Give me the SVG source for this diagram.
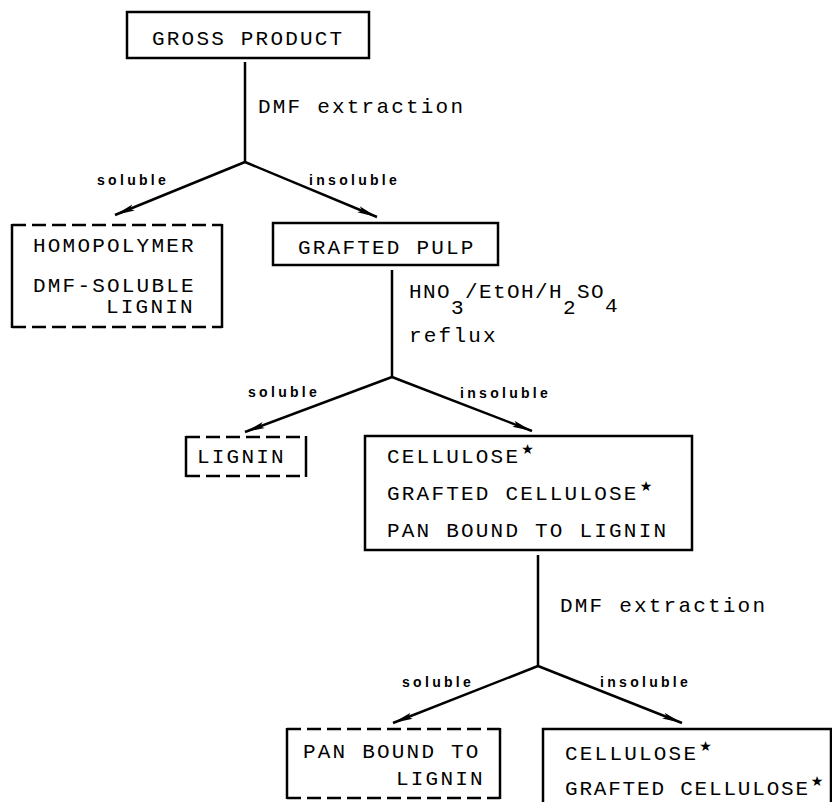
<svg xmlns="http://www.w3.org/2000/svg" width="832" height="802" viewBox="0 0 832 802">
<defs>
<marker id="ah" viewBox="0 0 20 8" refX="20" refY="4" markerWidth="20" markerHeight="8" markerUnits="userSpaceOnUse" orient="auto">
<path d="M0,0.8 L20,4 L0,7.2 L4,4 Z" fill="#000"/>
</marker>
<style>
.bx{fill:none;stroke:#000;stroke-width:2.5}
.dash{fill:none;stroke:#000;stroke-width:2.5;stroke-dasharray:14 6}
.side{fill:none;stroke:#000;stroke-width:2.5}
.ln{fill:none;stroke:#000;stroke-width:2.5}
.ar{fill:none;stroke:#000;stroke-width:2.5;marker-end:url(#ah)}
.t{font-family:"Liberation Mono","DejaVu Sans Mono",monospace;font-size:21px;letter-spacing:2.2px;fill:#000}
.c{font-family:"Liberation Mono","DejaVu Sans Mono",monospace;font-size:21px;letter-spacing:1.4px;fill:#000}
.l{font-family:"Liberation Sans","DejaVu Sans",sans-serif;font-weight:bold;font-size:14px;letter-spacing:3.3px;fill:#000}
.st{font-family:"DejaVu Sans",sans-serif;font-size:14px;letter-spacing:0}
</style>
</defs>
<rect width="832" height="802" fill="#fff"/>

<g id="connectors">
<line class="ln" x1="245" y1="62" x2="245" y2="162"/>
<line class="ar" x1="245" y1="162" x2="115" y2="215"/>
<line class="ar" x1="245" y1="162" x2="377" y2="217"/>
<line class="ln" x1="392" y1="270" x2="392" y2="377"/>
<line class="ar" x1="392" y1="377" x2="245" y2="432"/>
<line class="ar" x1="392" y1="377" x2="532" y2="431"/>
<line class="ln" x1="538" y1="555" x2="538" y2="666"/>
<line class="ar" x1="538" y1="666" x2="393" y2="723"/>
<line class="ar" x1="538" y1="666" x2="682" y2="723"/>
<text class="t" x="258" y="113">DMF extraction</text>
<text class="l" x="97" y="185">soluble</text>
<text class="l" x="309" y="185">insoluble</text>
<text class="c" x="409" y="298">HNO<tspan dy="16">3</tspan><tspan dy="-16">/EtOH/H</tspan><tspan dy="16">2</tspan><tspan dy="-16">SO</tspan><tspan dy="14">4</tspan></text>
<text class="t" x="409" y="342">reflux</text>
<text class="l" x="248" y="397">soluble</text>
<text class="l" x="460" y="398">insoluble</text>
<text class="t" x="560" y="612">DMF extraction</text>
<text class="l" x="402" y="687">soluble</text>
<text class="l" x="600" y="687">insoluble</text>
</g>

<g id="gross-product">
<rect class="bx" x="127" y="12" width="242" height="46"/>
<text class="t" x="152" y="45">GROSS PRODUCT</text>
</g>

<g id="homopolymer">
<line class="dash" x1="12" y1="225" x2="222" y2="225"/>
<line class="dash" x1="12" y1="327" x2="222" y2="327"/>
<line class="side" x1="12" y1="224" x2="12" y2="328"/>
<line class="side" x1="222" y1="224" x2="222" y2="328"/>
<text class="t" x="33" y="252">HOMOPOLYMER</text>
<text class="t" x="33" y="292">DMF-SOLUBLE</text>
<text class="t" x="106" y="313">LIGNIN</text>
</g>

<g id="grafted-pulp">
<rect class="bx" x="273" y="223" width="225" height="42"/>
<text class="t" x="298" y="254">GRAFTED PULP</text>
</g>

<g id="lignin">
<line class="dash" x1="186" y1="437" x2="306" y2="437"/>
<line class="dash" x1="186" y1="476" x2="306" y2="476"/>
<line class="side" x1="186" y1="436" x2="186" y2="477"/>
<line class="side" x1="306" y1="436" x2="306" y2="477"/>
<text class="t" x="197" y="463">LIGNIN</text>
</g>

<g id="cellulose-mix">
<rect class="bx" x="365" y="436" width="327" height="114"/>
<text class="t" x="387" y="463">CELLULOSE<tspan class="st" dx="1" dy="-9">★</tspan></text>
<text class="t" x="387" y="500">GRAFTED CELLULOSE<tspan class="st" dx="1" dy="-9">★</tspan></text>
<text class="t" x="387" y="537">PAN BOUND TO LIGNIN</text>
</g>

<g id="pan-bound">
<line class="dash" x1="287" y1="729" x2="500" y2="729"/>
<line class="dash" x1="287" y1="798" x2="500" y2="798"/>
<line class="side" x1="287" y1="728" x2="287" y2="799"/>
<line class="side" x1="500" y1="728" x2="500" y2="799"/>
<text class="t" x="303" y="758">PAN BOUND TO</text>
<text class="t" x="396" y="785">LIGNIN</text>
</g>

<g id="cellulose-final">
<rect class="bx" x="543" y="729" width="288" height="90"/>
<text class="t" x="565" y="760">CELLULOSE<tspan class="st" dx="1" dy="-9">★</tspan></text>
<text class="t" x="565" y="795" style="letter-spacing:1.8px">GRAFTED CELLULOSE<tspan class="st" dx="1" dy="-9">★</tspan></text>
</g>
</svg>
